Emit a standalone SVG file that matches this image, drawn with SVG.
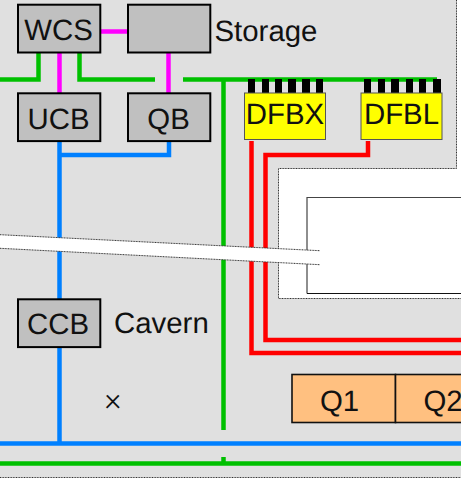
<svg xmlns="http://www.w3.org/2000/svg" width="461" height="484" viewBox="0 0 461 484">
<style>
text{font-family:"Liberation Sans",Arial,sans-serif;font-size:29.4px;fill:#111;text-anchor:middle;text-rendering:geometricPrecision}
.l{text-anchor:start}
.box{fill:#c0c0c0;stroke:#000;stroke-width:2}
.y{fill:#ffff00;stroke:#555;stroke-width:1}
.q{fill:#ffc080;stroke:#111;stroke-width:1.6}
.w{fill:none;stroke-width:4.5}
.g{stroke:#00c000}.b{stroke:#0080ff}.r{stroke:#ff0000}.m{stroke:#ff00ff}
.edge{fill:none;stroke:#333;stroke-width:1;stroke-dasharray:1 .6}
.tab{fill:#000}
</style>
<rect width="461" height="484" fill="#fff"/>
<g id="cavern-area">
<path d="M0 0H456.5V168.5H278.5V298.5H461V477H0Z" fill="#e0e0e0"/>
<path class="edge" d="M456.5 0V168.5H278.5V298.5H461M0 477.5H461"/>
<path d="M307 293.5V197.5H461" fill="none" stroke="#444" stroke-width="1.2"/>
<path d="M307 293.5H461" fill="none" stroke="#111" stroke-width="1"/>
</g>
<g id="connectors">
<path class="w g" d="M0 79.5H38.5V52M79.5 52V79.5H155M183 79.5H437M223.5 79.5V430M223.5 457V463.5M0 463.5H461"/>
<path class="w m" d="M100 31.5H128M59.5 52V93M168.5 52V93"/>
<path class="w b" d="M59.5 141V443.5M0 443.5H461M59.5 155H169V141"/>
<path class="w r" d="M251.5 141V353H461M368 141V155H265.5V340H461"/>
</g>
<g id="break">
<path d="M0 234.7L320 250.7V264.7L0 248.3Z" fill="#fff"/>
<path class="edge" d="M0 234.7L320 250.7M0 248.3L320 264.7"/>
</g>
<g id="WCS"><rect class="box" x="18" y="4.7" width="82.3" height="47.8"/><text x="58.5" y="39.5">WCS</text></g>
<g id="Storage"><rect class="box" x="128" y="4.7" width="82.3" height="47.8"/><text class="l" x="214.5" y="40.5">Storage</text></g>
<g id="UCB"><rect class="box" x="18" y="93.3" width="82.3" height="47.8"/><text x="58.5" y="128.5">UCB</text></g>
<g id="QB"><rect class="box" x="128" y="93.3" width="82.3" height="47.8"/><text x="168.5" y="128.5">QB</text></g>
<g id="CCB"><rect class="box" x="18" y="299.3" width="82.3" height="47.8"/><text x="58" y="333.5">CCB</text></g>
<g id="Cavern"><text class="l" x="114" y="333">Cavern</text></g>
<g id="DFBX">
<rect class="tab" x="248" y="79" width="7" height="14"/><rect class="tab" x="262" y="79" width="7" height="14"/><rect class="tab" x="275" y="79" width="7" height="14"/><rect class="tab" x="288" y="79" width="8" height="14"/><rect class="tab" x="302" y="79" width="8" height="14"/><rect class="tab" x="316" y="79" width="7" height="14"/>
<rect class="y" x="244.5" y="93" width="81" height="46.5"/><text x="285" y="124">DFBX</text></g>
<g id="DFBL">
<rect class="tab" x="364" y="79" width="7" height="14"/><rect class="tab" x="378" y="79" width="7" height="14"/><rect class="tab" x="391" y="79" width="8" height="14"/><rect class="tab" x="406" y="79" width="7" height="14"/><rect class="tab" x="419" y="79" width="7" height="14"/><rect class="tab" x="433" y="79" width="8" height="14"/>
<rect class="y" x="361" y="93" width="81" height="46.5"/><text x="401.5" y="124">DFBL</text></g>
<g id="Q1"><rect class="q" x="292" y="374.5" width="103.5" height="48"/><text x="339.5" y="410.5">Q1</text></g>
<g id="Q2"><rect class="q" x="395.5" y="374.5" width="80" height="48"/><text x="443" y="410.5">Q2</text></g>
<g id="cross"><text x="113" y="410" style="font-family:Roboto,sans-serif;font-weight:300;font-size:32px">×</text></g>
</svg>
